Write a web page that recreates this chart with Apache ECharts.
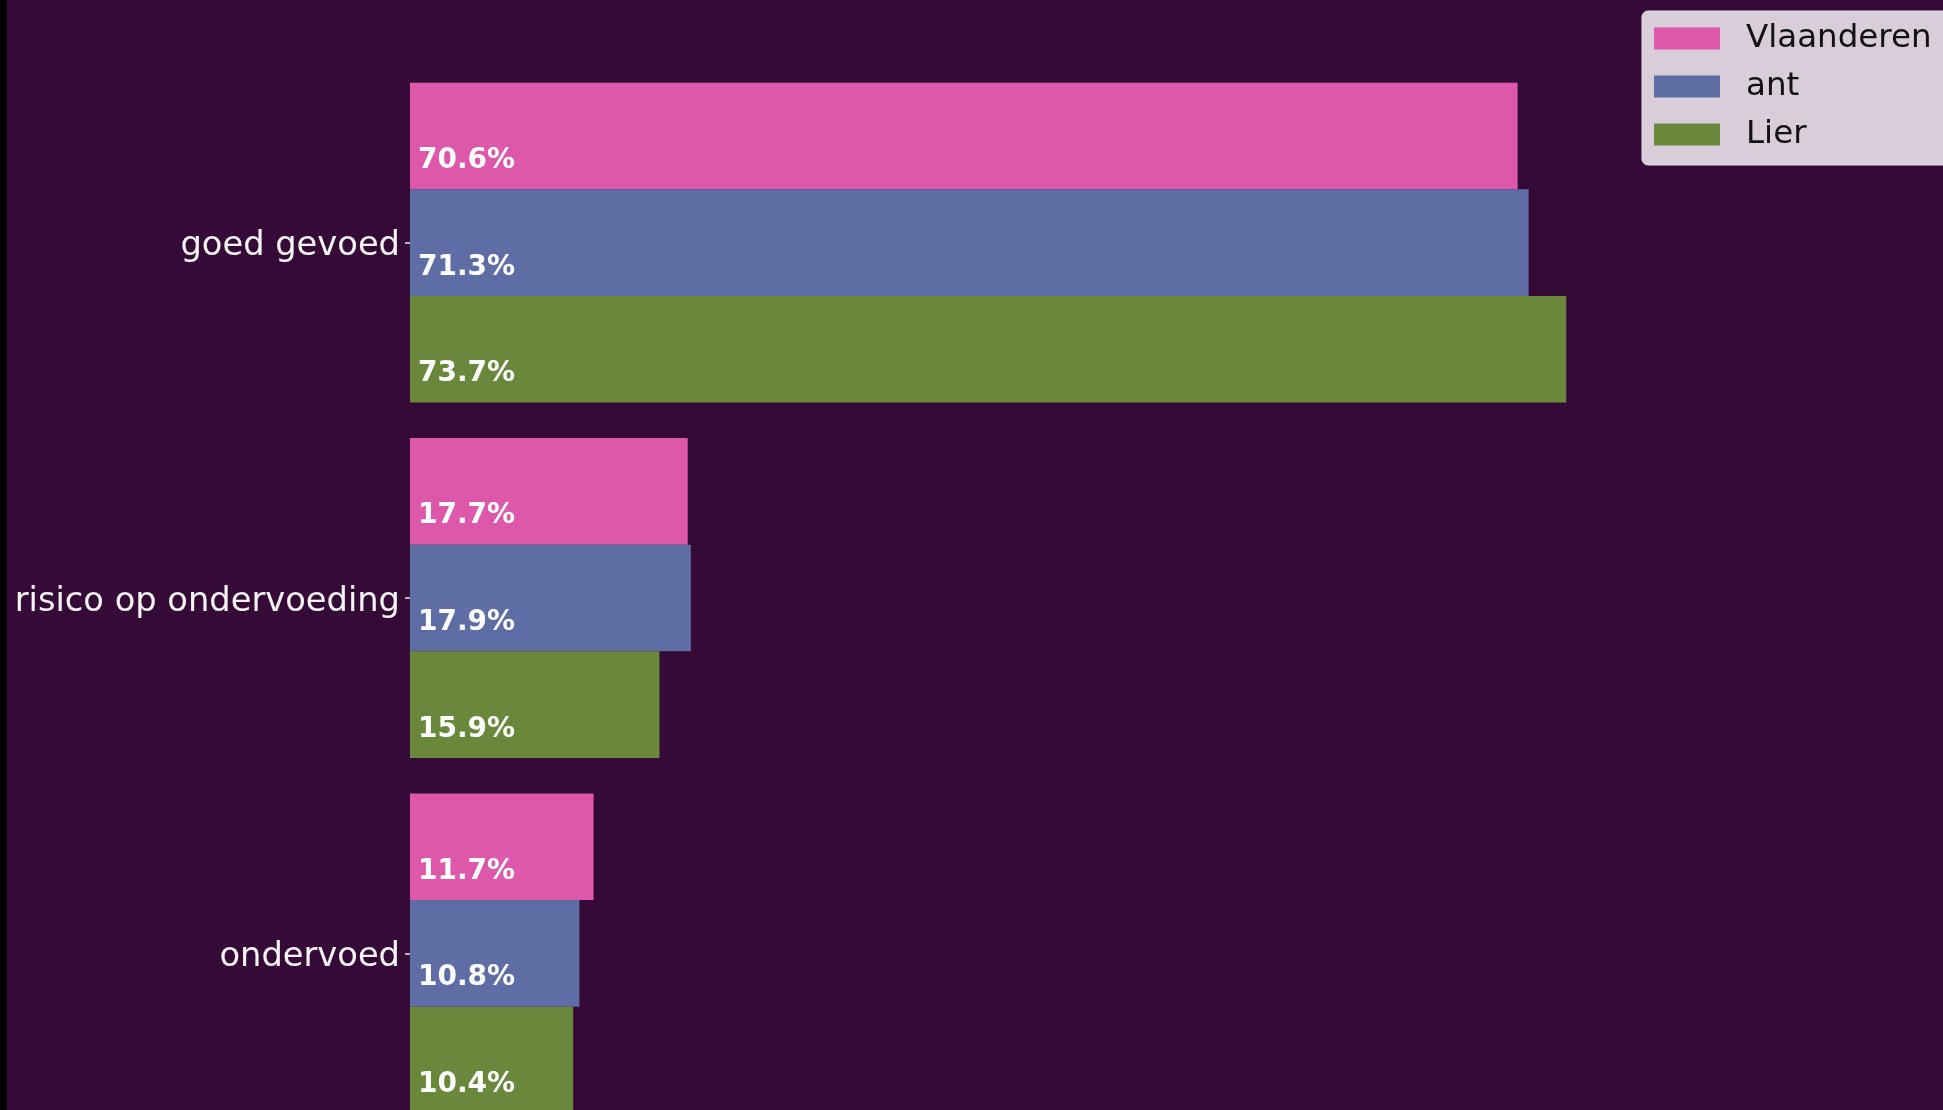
<!DOCTYPE html>
<html>
<head>
<meta charset="utf-8">
<script src="https://cdn.jsdelivr.net/npm/echarts@6/dist/echarts.min.js"></script>
<style>
  html, body { margin: 0; padding: 0; background: #360a36; }
  #chart { width: 1943px; height: 1110px; }
</style>
</head>
<body>
<div id="chart"></div>
<script>
// categorieen en waarden (in %)
const categories = ["goed gevoed", "risico op ondervoeding", "ondervoed"];
const vlaanderen = [70.6, 17.7, 11.7];
const ant = [71.3, 17.9, 10.8];
const lier = [73.7, 15.9, 10.4];

const seriesNames = ["Vlaanderen", "ant", "Lier"];
const seriesColors = ["#dd57aa", "#5e6ea5", "#6a883c"];

var myChart = echarts.init(document.getElementById("chart"));

function barSeries(name, data, color) {
  return {
    name: name,
    type: "bar",
    data: data,
    barGap: "0%",
    barCategoryGap: "10%",
    itemStyle: { color: color },
    label: {
      show: true,
      position: [8, 78],
      align: "left",
      verticalAlign: "middle",
      color: "#ffffff",
      fontFamily: "DejaVu Sans",
      fontWeight: "bold",
      fontSize: 28,
      formatter: function (p) {
        return p.value.toFixed(1) + "%";
      },
    },
  };
}

var option = {
  backgroundColor: "#360a36",
  animation: false,
  grid: {
    left: 410,
    top: 65,
    width: 1412,
    height: 1066,
    containLabel: false,
    outerBoundsMode: "none",
  },
  xAxis: {
    type: "value",
    min: 0,
    max: 90,
    show: false,
    splitLine: { show: false },
  },
  yAxis: {
    type: "category",
    data: categories,
    inverse: true,
    axisLine: { show: false },
    axisTick: {
      show: true,
      alignWithLabel: true,
      length: 5,
      lineStyle: { color: "#e8e8e8", width: 1.5 },
    },
    axisLabel: {
      margin: 10,
      color: "#f4f4f4",
      fontFamily: "DejaVu Sans",
      fontSize: 33.7,
      formatter: "{t|{value}}",
      rich: {
        t: {
          fontFamily: "DejaVu Sans",
          fontSize: 33.7,
          color: "#f4f4f4",
          padding: [8, 0, 0, 0],
        },
      },
    },
  },
  legend: {
    orient: "vertical",
    left: 1642,
    top: 11,
    data: seriesNames,
    backgroundColor: "#d8cdd9",
    borderColor: "#e6dde6",
    borderWidth: 1,
    borderRadius: 6,
    padding: [11, 60, 14, 12],
    itemWidth: 66,
    itemHeight: 22,
    itemGap: 15,
    icon: "rect",
    textStyle: {
      color: "#111111",
      fontFamily: "DejaVu Sans",
      fontSize: 32.5,
      lineHeight: 22,
      padding: [0, 0, 0, 21],
    },
  },
  graphic: [
    {
      type: "rect",
      left: 0,
      top: 0,
      shape: { width: 7, height: 1110 },
      style: { fill: "#000000" },
      silent: true,
    },
  ],
  series: [
    barSeries(seriesNames[0], vlaanderen, seriesColors[0]),
    barSeries(seriesNames[1], ant, seriesColors[1]),
    barSeries(seriesNames[2], lier, seriesColors[2]),
  ],
};

myChart.setOption(option);
</script>
</body>
</html>
